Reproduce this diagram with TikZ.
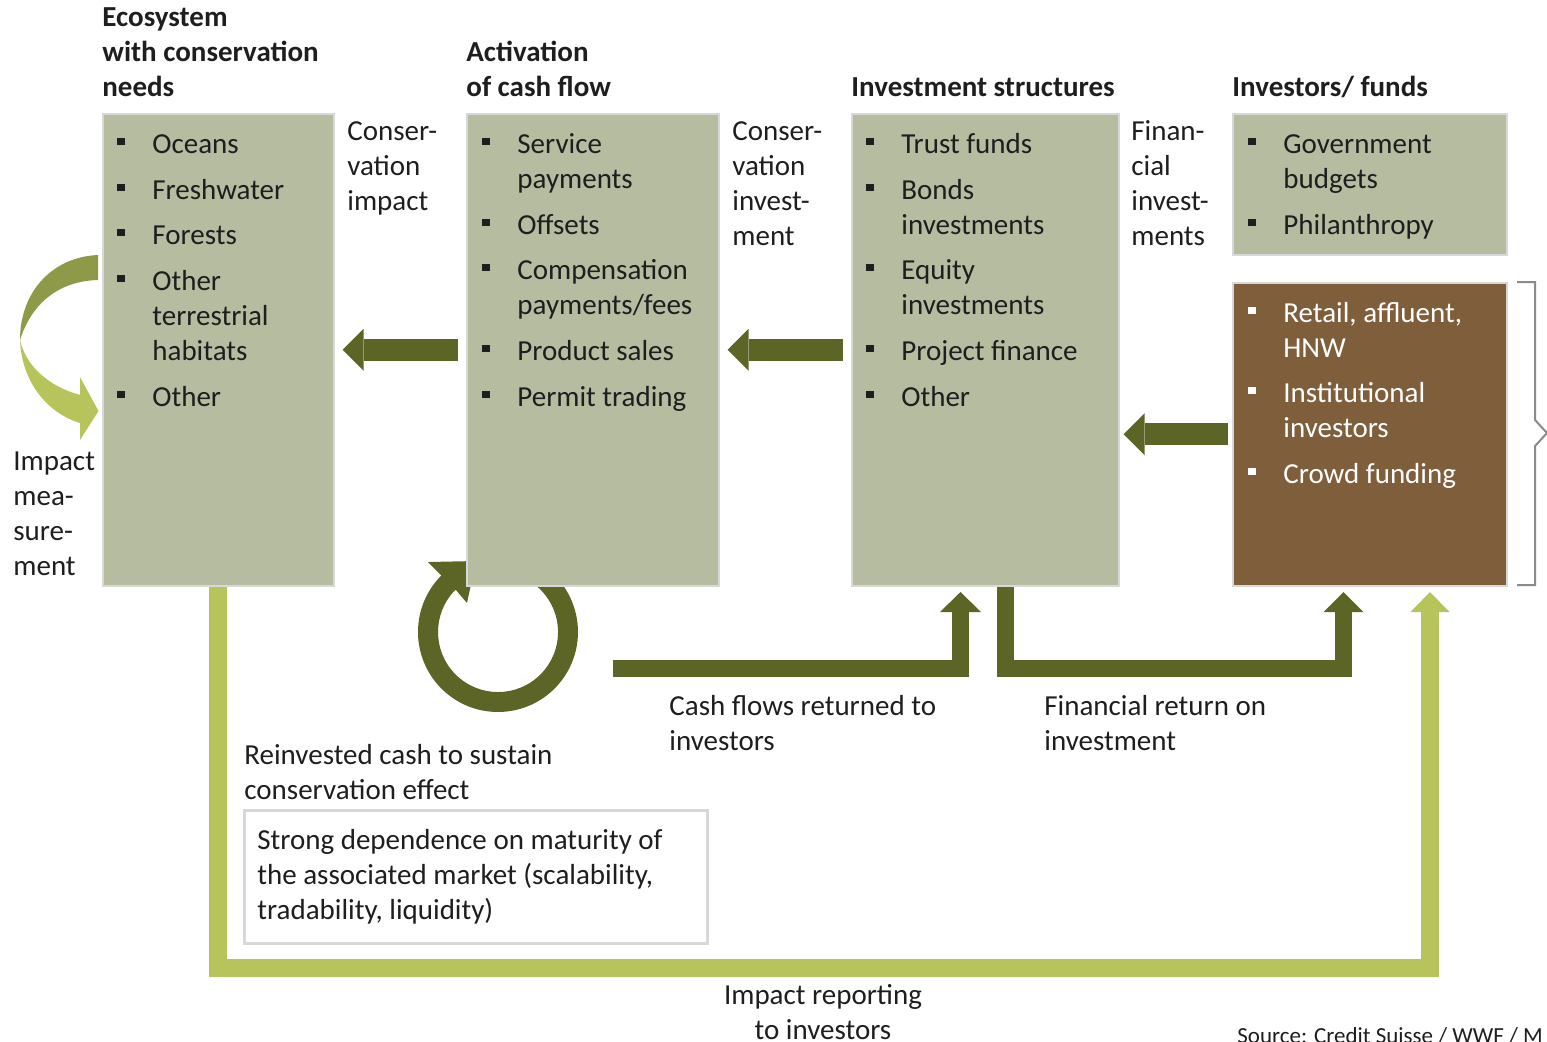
\documentclass[tikz,border=0pt]{standalone}
\usepackage{fontspec}
\setmainfont{Carlito}
\usetikzlibrary{arrows.meta}
\definecolor{sage}{HTML}{B5BC9F}
\definecolor{olive}{HTML}{5C6526}
\definecolor{lime}{HTML}{B7C35B}
\definecolor{moss}{HTML}{8E9A48}
\definecolor{bark}{HTML}{7F5E3B}
\definecolor{edge}{HTML}{D8D8D8}
\definecolor{ink}{HTML}{1E1E1E}
\definecolor{brace}{HTML}{8A8A8A}
\newcommand\fs{\fontsize{14.5}{17.5}\selectfont}
% bullet item: [colour]{name}{bullet x}{baseline y}{text}
\newcommand\bitem[5][ink]{%
  \fill[#1] (#3-4,#4-15) rectangle (#3+4,#4-8);
  \node[txt,text=#1] (#2) at (#3+31,#4) {\strut#5};}
\begin{document}
\begin{tikzpicture}[x=0.5pt,y=-0.5pt,
  % the given point is the baseline of the first line (which starts with a strut)
  txt/.style={anchor=north west, yshift=12.25pt, align=left, inner sep=0pt,
    font=\fs, text=ink},
  head/.style={txt, font=\fs\bfseries},
  panel/.style={anchor=north west, fill=sage, draw=edge, line width=0.8pt, inner sep=0pt},
  flow/.style={draw=olive, line width=8.5pt, line join=miter,
    -{Triangle[length=10pt,width=20.5pt,line width=0pt]}},
  back/.style={draw=olive, line width=11pt,
    -{Triangle[length=10.5pt,width=21pt,line width=0pt]}},
  report/.style={draw=lime, line width=9pt, line join=miter,
    -{Triangle[length=10pt,width=19.5pt,line width=0pt]}},
]
\useasboundingbox (0,0) rectangle (1547,1041);

% curved arrow for impact measurement
\fill[moss] (98,255) .. controls (52,257) and (20,292) .. (20,340)
  .. controls (32,302) and (60,281) .. (98,280) -- cycle;
\fill[lime] (20,340) .. controls (22,385) and (50,414) .. (80,423)
  -- (80,440) -- (98.5,411) -- (80,377) -- (80,395)
  .. controls (48,386) and (26,366) .. (20,340) -- cycle;

% reinvestment loop
\fill[olive] (549.4,570.7) arc[start angle=-50, end angle=225, radius=80]
  -- (428,562) -- (476,561) -- (467,603) -- (455.6,589.6)
  arc[start angle=225, end angle=-50, radius=60] -- cycle;

% panels
\node[panel, minimum width=115.5pt, minimum height=236pt] (box1) at (102,113) {};
\node[panel, minimum width=126pt, minimum height=236pt] (box2) at (466,113) {};
\node[panel, minimum width=133.5pt, minimum height=236pt] (box3) at (851,113) {};
\node[panel, minimum width=137pt, minimum height=70.5pt] (box4) at (1232,113) {};
\node[panel, fill=bark, minimum width=137pt, minimum height=151.5pt] (box5) at (1232,282) {};

% bracket beside the brown panel
\draw[brace, line width=1pt] (1517,282) -- (1535,282) -- (1535,420) -- (1547,433)
  -- (1535,446) -- (1535,585) -- (1517,585);

% headings
\node[head] (h1) at (102,26) {\strut Ecosystem\\with conservation\\needs};
\node[head] (h2) at (466,61) {\strut Activation\\of cash flow};
\node[head] (h3) at (851,96) {\strut Investment structures};
\node[head] (h4) at (1232,96) {\strut Investors/ funds};

% panel contents
\bitem{o1}{121}{153}{Oceans}
\bitem{o2}{121}{199}{Freshwater}
\bitem{o3}{121}{244}{Forests}
\bitem{o4}{121}{290}{Other\\terrestrial\\habitats}
\bitem{o5}{121}{406}{Other}

\bitem{a1}{486}{153}{Service\\payments}
\bitem{a2}{486}{234}{Offsets}
\bitem{a3}{486}{279}{Compensation\\payments/fees}
\bitem{a4}{486}{360}{Product sales}
\bitem{a5}{486}{406}{Permit trading}

\bitem{s1}{870}{153}{Trust funds}
\bitem{s2}{870}{199}{Bonds\\investments}
\bitem{s3}{870}{279}{Equity\\investments}
\bitem{s4}{870}{360}{Project finance}
\bitem{s5}{870}{406}{Other}

\bitem{f1}{1252}{153}{Government\\budgets}
\bitem{f2}{1252}{234}{Philanthropy}

\bitem[white]{r1}{1252}{322}{Retail, affluent,\\HNW}
\bitem[white]{r2}{1252}{402}{Institutional\\investors}
\bitem[white]{r3}{1252}{483}{Crowd funding}

% labels between panels
\node[txt] (l1) at (347,140) {\strut Conser-\\vation\\impact};
\node[txt] (l2) at (732,140) {\strut Conser-\\vation\\invest-\\ment};
\node[txt] (l3) at (1131,140) {\strut Finan-\\cial\\invest-\\ments};
\node[txt] (l4) at (13,470) {\strut Impact\\mea-\\sure-\\ment};

% flows between panels
\draw[back] ([xshift=-4pt]box2.west) -- ([xshift=4pt]box1.east);
\draw[back] ([xshift=-4pt]box3.west) -- ([xshift=4pt]box2.east);
\draw[back] ([xshift=-2pt]box5.west) -- ([xshift=2pt]box3.east |- box5.west);

% returns to investors
\coordinate (cf0) at (613,668.5);
\coordinate (cf1) at (960.5,592);
\draw[flow] (cf0) -| (cf1);
\coordinate (fr0) at ([xshift=10pt]box3.south);
\coordinate (fr1) at (1343.5,592);
\draw[flow, -{Triangle[length=10pt,width=20pt,line width=0pt]}] (fr0) -- ++(0,81.5) -| (fr1);

% impact reporting loop
\coordinate (ir1) at (1430,592);
\draw[report] (box1.south) -- ++(0,381) -| (ir1);

% captions
\node[txt] (c1) at (669,715) {\strut Cash flows returned to\\investors};
\node[txt] (c2) at (1044,715) {\strut Financial return on\\investment};
\node[txt] (c3) at (244,764) {\strut Reinvested cash to sustain\\conservation effect};
\node[anchor=north west, fill=white, draw=edge, line width=1.25pt, inner sep=0pt,
  minimum width=231.5pt, minimum height=66.5pt] (note) at (243,809) {};
\node[txt] (notetext) at (257,849) {\strut Strong dependence on maturity of\\the associated market (scalability,\\tradability, liquidity)};
\node[txt, anchor=north, align=center] (c4) at (823,1004) {\strut Impact reporting\\to investors};
\node[anchor=base west, inner sep=0pt, text=ink, font=\fontsize{11.5}{13}\selectfont]
  (src) at (1237,1043) {Source: Credit Suisse / WWF / M};
\end{tikzpicture}
\end{document}
